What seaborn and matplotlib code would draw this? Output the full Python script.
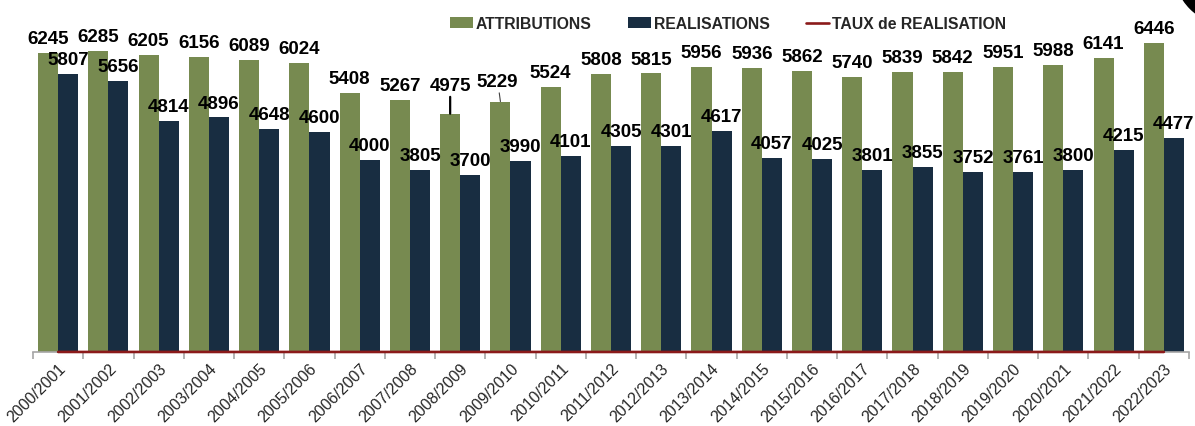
import numpy as np
import pandas as pd
import matplotlib
matplotlib.use("Agg")
import matplotlib.pyplot as plt
from matplotlib.patches import Patch, Ellipse
from matplotlib.lines import Line2D
import seaborn as sns

# ──────────────────────────────────────────────
# Data
# ──────────────────────────────────────────────

YEARS = [
    "2000/2001", "2001/2002", "2002/2003", "2003/2004", "2004/2005",
    "2005/2006", "2006/2007", "2007/2008", "2008/2009", "2009/2010",
    "2010/2011", "2011/2012", "2012/2013", "2013/2014", "2014/2015",
    "2015/2016", "2016/2017", "2017/2018", "2018/2019", "2019/2020",
    "2020/2021", "2021/2022", "2022/2023",
]
ATTRIBUTIONS = [
    6245, 6285, 6205, 6156, 6089, 6024, 5408, 5267, 4975, 5229, 5524, 5808,
    5815, 5956, 5936, 5862, 5740, 5839, 5842, 5951, 5988, 6141, 6446,
]
REALISATIONS = [
    5807, 5656, 4814, 4896, 4648, 4600, 4000, 3805, 3700, 3990, 4101, 4305,
    4301, 4617, 4057, 4025, 3801, 3855, 3752, 3761, 3800, 4215, 4477,
]
# taux de realisation (ratio), plotted on the same axis -> sits on the baseline
TAUX = [
    0.93, 0.90, 0.78, 0.80, 0.76, 0.76, 0.74, 0.72, 0.74, 0.76, 0.74, 0.74,
    0.74, 0.78, 0.68, 0.69, 0.66, 0.66, 0.64, 0.63, 0.63, 0.69, 0.70,
]
SERIES = ["ATTRIBUTIONS", "REALISATIONS", "TAUX de REALISATION"]

GREEN = "#778a50"
NAVY = "#182d41"
RED = "#8b1a1a"
GRID_GREY = "#a6a6a6"

sns.set_theme(style="white")
plt.rcParams["font.family"] = ["Liberation Sans", "DejaVu Sans"]

df = pd.DataFrame({
    "annee": YEARS * 2,
    "valeur": ATTRIBUTIONS + REALISATIONS,
    "serie": [SERIES[0]] * len(YEARS) + [SERIES[1]] * len(YEARS),
})

W, H = 1195, 427
fig = plt.figure(figsize=(W / 100, H / 100), dpi=100)
ax = fig.add_axes([33 / W, 1 - 353 / H, (1189 - 33) / W, 353 / H])

sns.barplot(
    data=df, x="annee", y="valeur", hue="serie",
    palette=[GREEN, NAVY], width=0.8, saturation=1,
    linewidth=0, legend=False, ax=ax,
)
sns.lineplot(
    x=np.arange(len(YEARS)), y=TAUX, color=RED, lw=1.9,
    ax=ax, clip_on=False, zorder=5,
)

ax.set_xlim(-0.5, len(YEARS) - 0.5)
ax.set_ylim(0, 7370)
ax.set_yticks([])
ax.set_xlabel("")
ax.set_ylabel("")
sns.despine(ax=ax, left=True)
ax.spines["bottom"].set_color(GRID_GREY)
ax.spines["bottom"].set_linewidth(1.2)

# category labels at centres, tick marks between categories
ax.set_xticks(range(len(YEARS)))
ax.set_xticklabels(YEARS, rotation=45, ha="right", rotation_mode="anchor",
                   fontsize=11.5)
ax.set_xticks(np.arange(-0.5, len(YEARS), 1), minor=True)
ax.tick_params(axis="x", which="major", length=0, pad=6)
ax.tick_params(axis="x", which="minor", length=5, width=1.2,
               color=GRID_GREY, direction="out", bottom=True)

# ──────────────────────────────────────────────
# Value labels
# ──────────────────────────────────────────────

label_kw = dict(textcoords="offset points", ha="center", va="bottom",
                fontsize=13.5, fontweight="bold", color="black")
raised = {8: (0, 14.5, 1.6, "black"), 9: (-2, 8.6, 0.8, "#404040")}

for i, v in enumerate(ATTRIBUTIONS):
    if i in raised:
        dx, dy, lw, c = raised[i]
        ax.annotate(str(v), (i - 0.2, v), xytext=(dx, dy),
                    arrowprops=dict(arrowstyle="-", color=c, lw=lw,
                                    shrinkA=0, shrinkB=0),
                    **label_kw)
    else:
        ax.annotate(str(v), (i - 0.2, v), xytext=(0, 4.3), **label_kw)

for i, v in enumerate(REALISATIONS):
    ax.annotate(str(v), (i + 0.2, v), xytext=(0, 4.3), **label_kw)

# ──────────────────────────────────────────────
# Legend
# ──────────────────────────────────────────────

handles = [
    Patch(facecolor=GREEN, edgecolor="none"),
    Patch(facecolor=NAVY, edgecolor="none"),
    Line2D([0], [0], color=RED, lw=1.9),
]
leg = ax.legend(handles, SERIES, loc="center", ncol=3, frameon=False,
                bbox_to_anchor=(0.609, 0.942), bbox_transform=fig.transFigure,
                prop=dict(size=11.3, weight="bold"), handlelength=1.5,
                handleheight=0.7, handletextpad=0.15, columnspacing=2.3)

# dark corner shape at the top right of the original picture
fig.add_artist(Ellipse((1230 / W, 1 + 30 / H), 112 / W, 112 / H,
                       transform=fig.transFigure, color="black"))

fig.savefig("out.png", dpi=100)
